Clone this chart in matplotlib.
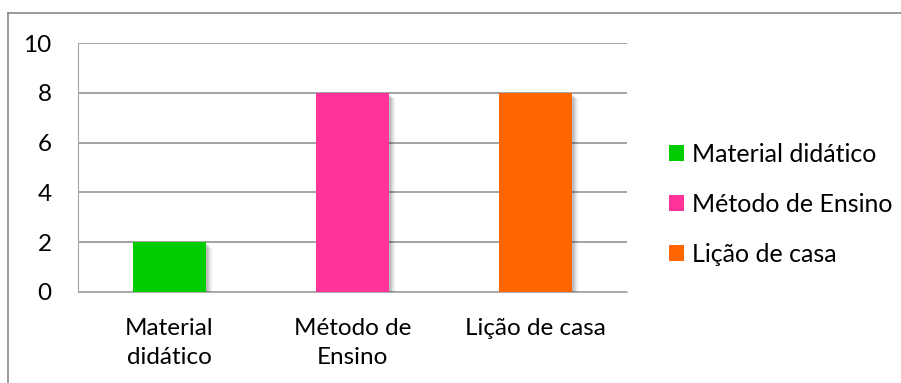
import matplotlib
matplotlib.use("Agg")
import matplotlib.pyplot as plt
import matplotlib.patheffects as pe
from matplotlib.lines import Line2D
from matplotlib.patches import Patch

plt.rcParams['font.family'] = ['Lato', 'DejaVu Sans']

categories = ["Material didático", "Método de Ensino", "Lição de casa"]
tick_labels = ["Material\ndidático", "Método de\nEnsino", "Lição de casa"]
values = [2, 8, 8]
colors = ["#00CC00", "#FF3399", "#FF6600"]

W, H = 901, 383
fig = plt.figure(figsize=(W / 100, H / 100), dpi=100)

# chart area frame (top and left edges)
fig.add_artist(Line2D([8 / W, 1], [1 - 13 / H] * 2, color="#8a8a8a", lw=1.2))
fig.add_artist(Line2D([8 / W] * 2, [0, 1 - 13 / H], color="#8a8a8a", lw=1.2))

ax = fig.add_axes([78 / W, 1 - 292 / H, (627 - 78) / W, (292 - 43) / H])

# soft drop shadow under each bar
shadow = [pe.SimplePatchShadow(offset=(d, -d), shadow_rgbFace="k", alpha=0.07)
          for d in (4, 3, 2.2, 1.5)] + [pe.Normal()]

x = range(len(categories))
ax.bar(x, values, width=0.4, color=colors, zorder=3, path_effects=shadow)

ax.set_xlim(-0.5, 2.5)
ax.set_ylim(0, 10)
ax.set_yticks([0, 2, 4, 6, 8, 10])
ax.yaxis.grid(True, color="#8c8c8c", lw=1.1, zorder=0)
ax.set_axisbelow(True)
ax.set_xticks(list(x))
ax.set_xticklabels(tick_labels, linespacing=1.45)
ax.tick_params(axis="both", length=0, labelsize=17.5)
ax.tick_params(axis="y", pad=19)
ax.tick_params(axis="x", pad=19)

for side in ("top", "right"):
    ax.spines[side].set_visible(False)
ax.spines["left"].set_color("#a6a6a6")
ax.spines["bottom"].set_color("#b0b0b0")

handles = [Patch(facecolor=c, edgecolor="none") for c in colors]
fig.legend(handles, categories, loc="center left",
           bbox_to_anchor=(669 / W, 1 - 204 / H), frameon=False,
           fontsize=18, handlelength=0.6, handleheight=0.6,
           handletextpad=0.3, labelspacing=1.08, borderaxespad=0,
           borderpad=0)

fig.savefig("out.png", dpi=100)
